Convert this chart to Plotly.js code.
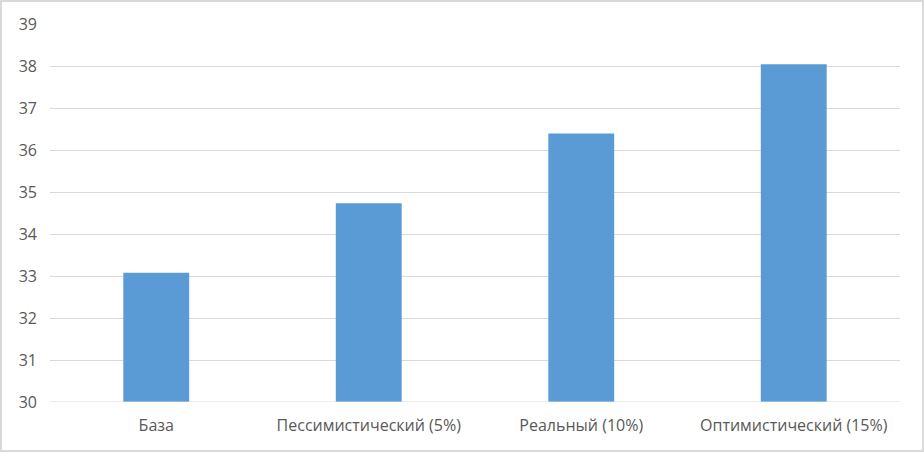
<!DOCTYPE html>
<html>
<head>
<meta charset="utf-8">
<script src="https://cdn.plot.ly/plotly-3.0.1.min.js"></script>
<style>
  html, body { margin: 0; padding: 0; background: #ffffff; }
  #chart { width: 924px; height: 452px; box-sizing: border-box; border: 2px solid #d9d9d9; }
</style>
</head>
<body>
<div id="chart"></div>
<script>
// Scenario labels and values
const scenarios = ["База", "Пессимистический (5%)", "Реальный (10%)", "Оптимистический (15%)"];
const values = [33.08, 34.73, 36.39, 38.04];
const yTicks = [30, 31, 32, 33, 34, 35, 36, 37, 38, 39];

const traces = [
  {
    type: "bar",
    x: scenarios,
    y: values,
    marker: { color: "#5b9bd5" },
    hoverinfo: "x+y",
    showlegend: false,
  },
];

const layout = {
  width: 920,
  height: 448,
  paper_bgcolor: "#ffffff",
  plot_bgcolor: "#ffffff",
  margin: { l: 48, r: 22, t: 22, b: 48 },
  bargap: 0.69,
  font: { family: "'Open Sans', Lato, sans-serif", size: 16, color: "#595959" },
  xaxis: {
    showgrid: false,
    showline: false,
    zeroline: false,
    ticks: "",
    ticklabelstandoff: 12,
    tickfont: { size: 16, color: "#595959" },
  },
  yaxis: {
    range: [30, 39],
    tickvals: yTicks,
    ticktext: yTicks.map(String),
    showgrid: true,
    gridcolor: "#d9d9d9",
    gridwidth: 1,
    zeroline: false,
    showline: false,
    ticks: "",
    ticklen: 0,
    ticklabelstandoff: 12,
    tickfont: { size: 16, color: "#595959" },
  },
  shapes: [
    {
      type: "line",
      xref: "paper",
      yref: "y",
      x0: 0,
      x1: 1,
      y0: 30,
      y1: 30,
      line: { color: "#d9d9d9", width: 1 },
    },
  ],
};

Plotly.newPlot("chart", traces, layout, { displayModeBar: false, staticPlot: true });
</script>
</body>
</html>
